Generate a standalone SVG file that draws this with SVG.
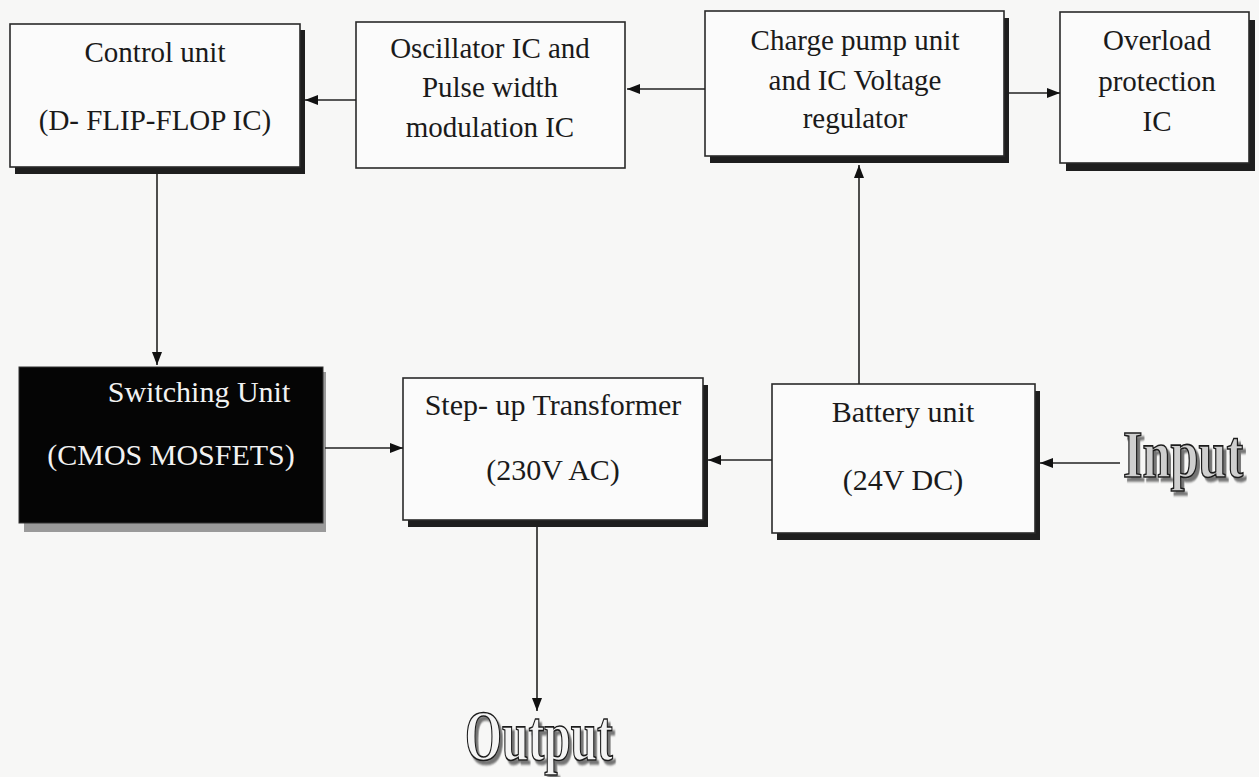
<svg xmlns="http://www.w3.org/2000/svg" width="1259" height="777" viewBox="0 0 1259 777">
<defs>
<style>
.box{fill:#fbfbfb;stroke:#2a2a2a;stroke-width:1.6}
.shd{fill:#1e1e1e}
.t{font-family:"Liberation Serif","Times New Roman",serif;font-size:29px;fill:#1a1a1a;text-anchor:middle}
.t30{font-size:30px}
.wt{fill:#f2f2f2}
.ln{stroke:#222;stroke-width:1.6;fill:none;marker-end:url(#ah)}
.big{font-family:"Liberation Serif","Times New Roman",serif;font-weight:bold;stroke:#1a1a1a;stroke-width:1.6;filter:url(#ds)}
</style>
<filter id="ds" x="-10%" y="-20%" width="130%" height="150%">
<feDropShadow dx="4" dy="4" stdDeviation="0.8" flood-color="#555" flood-opacity="0.8"/>
</filter>
<marker id="ah" viewBox="0 0 13 10" refX="13" refY="5" markerWidth="13" markerHeight="10" markerUnits="userSpaceOnUse" orient="auto">
<path d="M0,0 L13,5 L0,10 Z" fill="#111"/>
</marker>
</defs>
<rect width="1259" height="777" fill="#f7f7f6"/>

<g id="control">
<rect class="shd" x="15" y="30" width="290" height="144"/>
<rect class="box" x="10" y="24" width="290" height="143"/>
<text class="t" x="155" y="62">Control unit</text>
<text class="t" x="155" y="130">(D- FLIP-FLOP IC)</text>
</g>

<g id="oscillator">
<rect class="box" x="356" y="22" width="269" height="146"/>
<text class="t" x="490" y="58">Oscillator IC and</text>
<text class="t" x="490" y="97">Pulse width</text>
<text class="t" x="490" y="137">modulation IC</text>
</g>

<g id="chargepump">
<rect class="shd" x="710" y="18" width="299" height="145"/>
<rect class="box" x="705" y="11" width="299" height="145"/>
<text class="t" x="855" y="50">Charge pump unit</text>
<text class="t" x="855" y="90">and IC Voltage</text>
<text class="t" x="855" y="128">regulator</text>
</g>

<g id="overload">
<rect class="shd" x="1066" y="20" width="189" height="151"/>
<rect class="box" x="1060" y="12" width="189" height="151"/>
<text class="t" x="1157" y="50">Overload</text>
<text class="t" x="1157" y="91">protection</text>
<text class="t" x="1157" y="131">IC</text>
</g>

<g id="switching">
<rect x="24" y="372" width="302" height="160" fill="#9a9a9a"/>
<rect x="19" y="367" width="304" height="156" fill="#050505" stroke="#333" stroke-width="1"/>
<text class="t t30 wt" x="199" y="402">Switching Unit</text>
<text class="t t30 wt" x="171" y="465">(CMOS MOSFETS)</text>
</g>

<g id="transformer">
<rect class="shd" x="408" y="385" width="300" height="142"/>
<rect class="box" x="403" y="378" width="300" height="142"/>
<text class="t t30" x="553" y="415">Step- up Transformer</text>
<text class="t t30" x="553" y="480">(230V AC)</text>
</g>

<g id="battery">
<rect class="shd" x="777" y="391" width="263" height="149"/>
<rect class="box" x="772" y="384" width="263" height="149"/>
<text class="t t30" x="903" y="422">Battery unit</text>
<text class="t t30" x="903" y="490">(24V DC)</text>
</g>

<g id="input">
<text class="big" x="0" y="0" font-size="68" transform="translate(1123,477) scale(0.74,1)" fill="#cfcfcf">Input</text>
</g>

<g id="output">
<text class="big" x="0" y="0" font-size="72" transform="translate(465,760) scale(0.66,1)" fill="#f4f4f4">Output</text>
</g>

<g id="connectors">
<line class="ln" x1="356" y1="100" x2="305" y2="100"/>
<line class="ln" x1="705" y1="89" x2="627" y2="89"/>
<line class="ln" x1="1009" y1="93" x2="1060" y2="93"/>
<line class="ln" x1="859" y1="384" x2="859" y2="165"/>
<line class="ln" x1="157" y1="174" x2="157" y2="365"/>
<line class="ln" x1="325" y1="448" x2="403" y2="448"/>
<line class="ln" x1="772" y1="460" x2="708" y2="460"/>
<line class="ln" x1="1120" y1="463" x2="1040" y2="463"/>
<line class="ln" x1="537" y1="527" x2="537" y2="711"/>
</g>
</svg>
